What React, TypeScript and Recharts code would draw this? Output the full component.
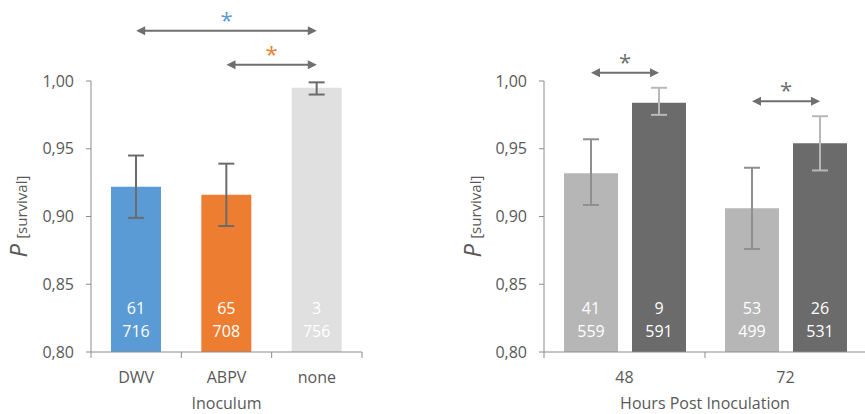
import React from "react";
import {Bar, BarChart, Cell, ErrorBar, LabelList, ReferenceLine, XAxis, YAxis} from "recharts";

// left panel: survival by inoculum
const inoculumCategories = ["DWV", "ABPV", "none"];
const inoculumSurvival = [0.922, 0.916, 0.995];
const inoculumUpper = [0.945, 0.939, 0.999];
const inoculumLower = [0.899, 0.893, 0.990];
const inoculumDeaths = [61, 65, 3];
const inoculumTotals = [716, 708, 756];
const inoculumColors = ["#5b9bd5", "#ed7d31", "#e0e0e0"];
const inoculumSig = [
    {from: "DWV", to: "none", y: 1.037, color: "#5b9bd5"},
    {from: "ABPV", to: "none", y: 1.012, color: "#ed7d31"},
];

// right panel: survival by hours post inoculation
const hpiCategories = ["48", "72"];
const lightSurvival = [0.932, 0.906];
const lightUpper = [0.957, 0.936];
const lightLower = [0.9085, 0.876];
const lightDeaths = [41, 53];
const lightTotals = [559, 499];
const darkSurvival = [0.984, 0.954];
const darkUpper = [0.995, 0.974];
const darkLower = [0.975, 0.934];
const darkDeaths = [9, 26];
const darkTotals = [591, 531];
const hpiSigY = [1.006, 0.985];

const yTicks = [0.8, 0.85, 0.9, 0.95, 1.0];

const FONT = "'Open Sans', 'Noto Sans', sans-serif";
const TEXT = "#595959";
const AXIS = "#8c8c8c";
const ARROW = "#6f6f6f";
const HPI_BAR_GAP = 14;

const inoculumData = inoculumCategories.map((name, i) => ({
    name,
    survival: inoculumSurvival[i],
    lower: inoculumLower[i],
    upper: inoculumUpper[i],
}));

const hpiData = hpiCategories.map((name, i) => ({
    name,
    light: lightSurvival[i],
    lightLower: lightLower[i],
    lightUpper: lightUpper[i],
    dark: darkSurvival[i],
    darkLower: darkLower[i],
    darkUpper: darkUpper[i],
}));

function Arrow({x1, x2, y, color, starColor}: any) {
    const h = 9, w = 4.5;
    return (
        <g>
            <line x1={x1 + h - 1} x2={x2 - h + 1} y1={y} y2={y} stroke={color} strokeWidth={2}/>
            <path d={`M${x1},${y}L${x1 + h},${y - w}L${x1 + h},${y + w}Z`} fill={color}/>
            <path d={`M${x2},${y}L${x2 - h},${y - w}L${x2 - h},${y + w}Z`} fill={color}/>
            <text x={(x1 + x2) / 2} y={y - 3} textAnchor="middle" fontSize={22} fontFamily={FONT}
                  fill={starColor}>*</text>
        </g>
    );
}

function XTick(props: any) {
    const {x, y, payload, index, visibleTicksCount} = props;
    const half = payload.offset ?? 0;
    return (
        <g>
            <line x1={x - half} x2={x - half} y1={y} y2={y + 6} stroke={AXIS}/>
            {index === visibleTicksCount - 1 &&
                <line x1={x + half} x2={x + half} y1={y} y2={y + 6} stroke={AXIS}/>}
            <text x={x} y={y + 31} textAnchor="middle" fontSize={16} fontFamily={FONT} fill={TEXT}>
                {payload.value}
            </text>
        </g>
    );
}

const yTitle = (dx: number) => (props: any) => {
    const vb = props.viewBox;
    const x = vb.x + dx;
    const y = vb.y + vb.height / 2;
    return (
        <text transform={`rotate(-90, ${x}, ${y})`} x={x} y={y} textAnchor="middle" fill={TEXT}
              fontFamily={FONT}>
            <tspan fontStyle="italic" fontSize={24}>P</tspan>
            <tspan fontSize={15} dx={5}>[survival]</tspan>
        </text>
    );
};

const countLabel = (deaths: number[], totals: number[]) => (props: any) => {
    const {x, y, width, height, index} = props;
    const cx = Number(x) + Number(width) / 2;
    const bottom = Number(y) + Number(height);
    return (
        <g fontFamily={FONT} fontSize={16} fill="#ffffff" textAnchor="middle">
            <text x={cx} y={bottom - 38}>{deaths[index]}</text>
            <text x={cx} y={bottom - 15}>{totals[index]}</text>
        </g>
    );
};

const hpiArrow = (props: any) => {
    const {x, y, width, height, index} = props;
    const bottom = Number(y) + Number(height);
    const v = darkSurvival[index];
    const toY = (val: number) => bottom - (val - yTicks[0]) / (v - yTicks[0]) * Number(height);
    const w = Number(width);
    return <Arrow x1={Number(x) - HPI_BAR_GAP - w / 2} x2={Number(x) + w / 2} y={toY(hpiSigY[index])}
                  color={ARROW} starColor={ARROW}/>;
};

const fmt = (v: number) => v.toFixed(2).replace(".", ",");

function YAxisCommon(width: number, dx: number) {
    return (
        <YAxis type="number" domain={[0.8, 1]} ticks={yTicks} allowDataOverflow width={width}
               tickFormatter={fmt} tick={{fill: TEXT, fontSize: 16, fontFamily: FONT}}
               stroke={AXIS} tickSize={5} tickMargin={12}
               label={{content: yTitle(dx)}}/>
    );
}

export default function App() {
    return (
        <div style={{position: "absolute", left: 0, top: 0, width: 865, height: 414, background: "#fff"}}>
            <div style={{position: "absolute", left: 0, top: 0}}>
                <BarChart width={430} height={414} data={inoculumData} barCategoryGap={20}
                          margin={{top: 81, right: 68, bottom: 0, left: 0}}>
                    <XAxis dataKey="name" height={62} stroke={AXIS} tickLine={false} tickSize={0} tickMargin={0}
                           tick={<XTick/>}
                           label={{value: "Inoculum", position: "insideBottom", offset: 5, fill: TEXT, fontSize: 16, fontFamily: FONT}}/>
                    {YAxisCommon(91, 27)}
                    <Bar dataKey="survival" isAnimationActive={false}>
                        {inoculumData.map((d, i) => <Cell key={d.name} fill={inoculumColors[i]}/>)}
                        <ErrorBar dataKey={(d: any) => [d.survival - d.lower, d.upper - d.survival]}
                                  width={8} strokeWidth={2} stroke="#6b6b6b" direction="y"/>
                        <LabelList content={countLabel(inoculumDeaths, inoculumTotals)}/>
                    </Bar>
                    {inoculumSig.map(s => (
                        <ReferenceLine key={s.from} ifOverflow="visible"
                                       segment={[{x: s.from, y: s.y}, {x: s.to, y: s.y}]}
                                       shape={(p: any) => <Arrow x1={p.x1} x2={p.x2} y={p.y1} color={ARROW}
                                                                 starColor={s.color}/>}/>
                    ))}
                </BarChart>
            </div>
            <div style={{position: "absolute", left: 430, top: 0}}>
                <BarChart width={436} height={414} data={hpiData} barCategoryGap={20} barGap={HPI_BAR_GAP}
                          margin={{top: 81, right: 0, bottom: 0, left: 0}}>
                    <XAxis dataKey="name" height={62} stroke={AXIS} tickLine={false} tickSize={0} tickMargin={0}
                           tick={<XTick/>}
                           label={{value: "Hours Post Inoculation", position: "insideBottom", offset: 5, fill: TEXT, fontSize: 16, fontFamily: FONT}}/>
                    {YAxisCommon(114, 51)}
                    <Bar dataKey="light" fill="#b6b6b6" isAnimationActive={false}>
                        <ErrorBar dataKey={(d: any) => [d.light - d.lightLower, d.lightUpper - d.light]}
                                  width={8} strokeWidth={2} stroke="#8f8f8f" direction="y"/>
                        <LabelList content={countLabel(lightDeaths, lightTotals)}/>
                    </Bar>
                    <Bar dataKey="dark" fill="#6b6b6b" isAnimationActive={false}>
                        <ErrorBar dataKey={(d: any) => [d.dark - d.darkLower, d.darkUpper - d.dark]}
                                  width={8} strokeWidth={2} stroke="#b8b8b8" direction="y"/>
                        <LabelList content={countLabel(darkDeaths, darkTotals)}/>
                        <LabelList content={hpiArrow}/>
                    </Bar>
                </BarChart>
            </div>
        </div>
    );
}
